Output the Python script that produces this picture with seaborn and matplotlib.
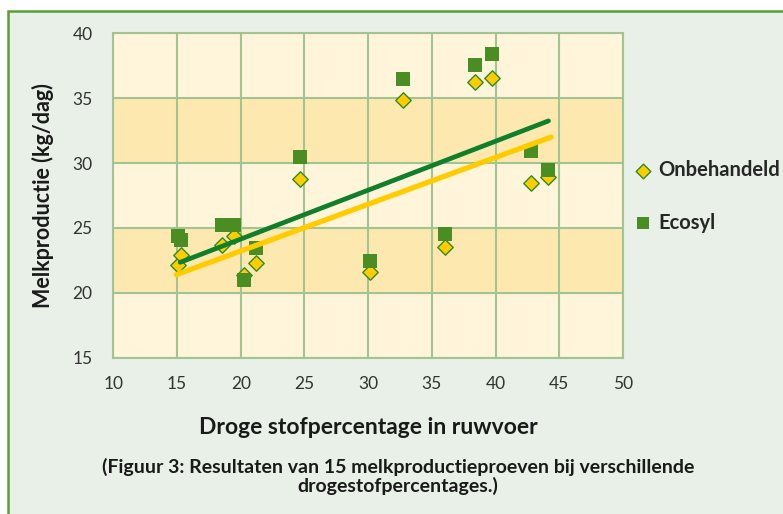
import matplotlib
matplotlib.use("Agg")
import matplotlib.pyplot as plt
import matplotlib.patches as mpatches
import seaborn as sns
import pandas as pd

# values
droge_stof = [15.1, 15.3, 18.5, 19.5, 20.25, 21.2, 24.65, 30.15, 32.7, 36.0, 38.4, 39.7, 42.8, 44.15]
onbehandeld = [22.15, 22.9, 23.7, 24.4, 21.4, 22.3, 28.75, 21.6, 34.85, 23.5, 36.25, 36.55, 28.45, 28.9]
ecosyl = [24.4, 24.1, 25.2, 25.2, 20.95, 23.45, 30.5, 22.45, 36.45, 24.55, 37.55, 38.4, 30.95, 29.5]

# end points of the two trend lines
trend_x_onb = [14.95, 44.35]
trend_y_onb = [21.4, 32.0]
trend_x_eco = [15.25, 44.15]
trend_y_eco = [22.35, 33.25]

x_ticks = [10, 15, 20, 25, 30, 35, 40, 45, 50]
y_ticks = [15, 20, 25, 30, 35, 40]
dark_bands = [(20, 25), (30, 35)]

YELLOW = "#FFCC00"
GREEN_PT = "#4A8E23"
GREEN_LINE = "#0F7F2C"
GRID = "#A2C493"
FRAME_BG = "#E8F0E7"

df = pd.DataFrame({"x": droge_stof, "onb": onbehandeld, "eco": ecosyl})
df_onb = pd.DataFrame({"x": trend_x_onb, "y": trend_y_onb})
df_eco = pd.DataFrame({"x": trend_x_eco, "y": trend_y_eco})

sns.set_style("white")
plt.rcParams["font.family"] = ["Lato", "DejaVu Sans"]

fig = plt.figure(figsize=(7.83, 5.14), dpi=100, facecolor="white")

# green frame round the whole chart
frame = mpatches.Rectangle((8 / 783, -0.1), 1.2, 1.1 - 11 / 514,
                           transform=fig.transFigure, facecolor=FRAME_BG,
                           edgecolor="#5A9E3A", linewidth=1.8, zorder=-1)
fig.patches.append(frame)

ax = fig.add_axes([0.1447, 0.3041, 0.651, 0.6311])
ax.set_zorder(2)
ax.set_facecolor("#FFF5DA")
for lo, hi in dark_bands:
    ax.axhspan(lo, hi, color="#FDE9B0", lw=0, zorder=0.2)

sns.scatterplot(data=df, x="x", y="onb", marker="D", s=62, color=YELLOW,
                edgecolor="#2E8B2E", linewidth=1.0, label="Onbehandeld",
                ax=ax, zorder=3)
sns.scatterplot(data=df, x="x", y="eco", marker="s", s=88, color=GREEN_PT,
                edgecolor=GREEN_PT, linewidth=0, label="Ecosyl", ax=ax, zorder=4)
sns.lineplot(data=df_onb, x="x", y="y", color=YELLOW, lw=3.8,
             solid_capstyle="round", ax=ax, zorder=5)
sns.lineplot(data=df_eco, x="x", y="y", color=GREEN_LINE, lw=3.4,
             solid_capstyle="round", ax=ax, zorder=6)

handles, labels = ax.get_legend_handles_labels()
if ax.get_legend():
    ax.get_legend().remove()

ax.set_xlim(10, 50)
ax.set_ylim(15, 40)
ax.set_xticks(x_ticks)
ax.set_yticks(y_ticks)
ax.grid(True, color=GRID, lw=1.5)
ax.set_axisbelow(True)
for sp in ax.spines.values():
    sp.set_color(GRID)
    sp.set_linewidth(1.5)
ax.tick_params(axis="both", direction="out", length=5, width=1.5, color=GRID,
               labelsize=12.5, labelcolor="#333333")
ax.tick_params(axis="x", pad=8)
ax.tick_params(axis="y", pad=10)

ax.set_xlabel("Droge stofpercentage in ruwvoer", fontsize=16.5, fontweight="bold", color="#1a1a1a")
ax.set_ylabel("Melkproductie (kg/dag)", fontsize=15.5, fontweight="bold", color="#1a1a1a")
ax.xaxis.set_label_coords(0.5, -0.183)
ax.yaxis.set_label_coords(-0.117, 0.5)

fig.legend(handles[:2], labels[:2], loc="center left",
           bbox_to_anchor=(633 / 783, 0.6177), bbox_transform=fig.transFigure,
           frameon=False, prop={"weight": "bold", "size": 14.5}, markerscale=0.95,
           handlelength=1, handletextpad=0.25, labelspacing=1.6,
           borderpad=0, borderaxespad=0)

fig.text(398 / 783, 0.073,
         "(Figuur 3: Resultaten van 15 melkproductieproeven bij verschillende\ndrogestofpercentages.)",
         ha="center", va="center", fontsize=14, fontweight="bold", color="#1a1a1a",
         linespacing=1.1)

fig.savefig("out.png", dpi=100, facecolor=fig.get_facecolor())
